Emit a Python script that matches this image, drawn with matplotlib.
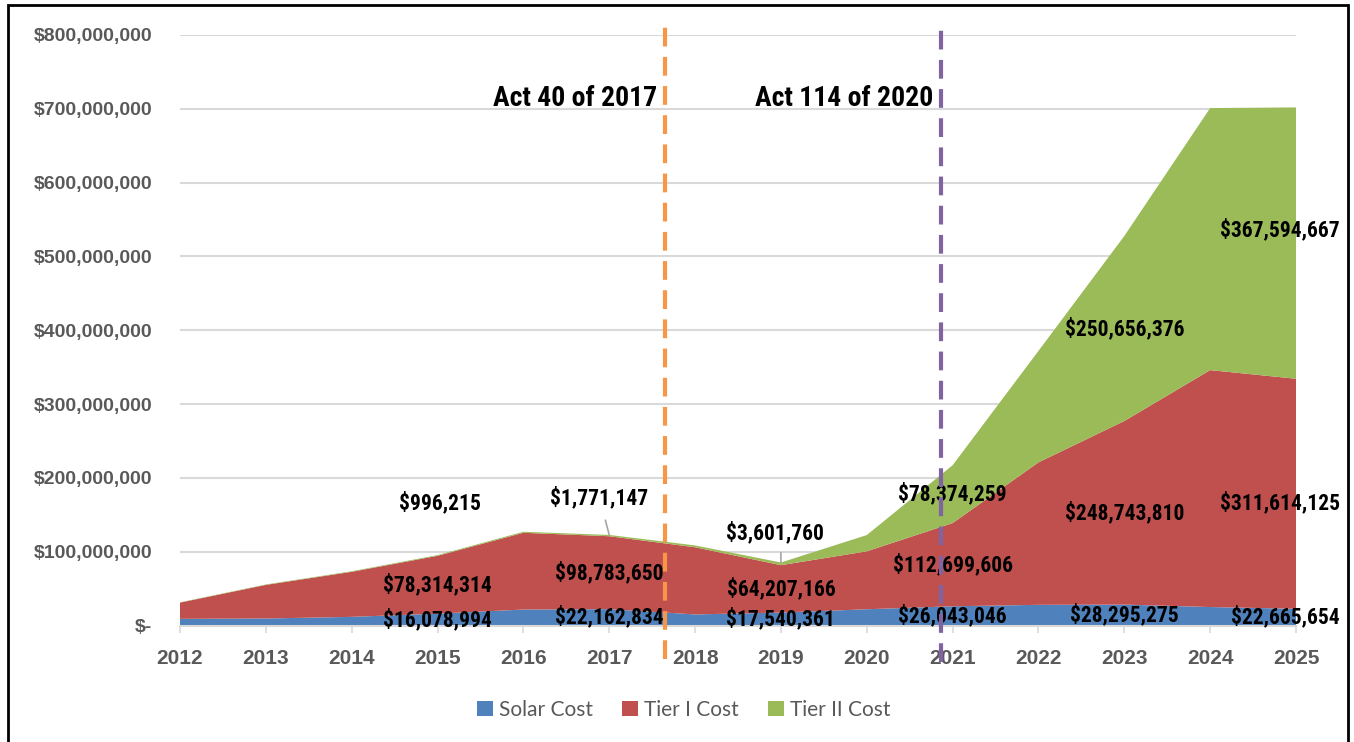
import matplotlib
matplotlib.use("Agg")
import matplotlib.pyplot as plt
from matplotlib import font_manager
from matplotlib.patches import Rectangle
from matplotlib.ticker import FuncFormatter, MultipleLocator

years = [2012, 2013, 2014, 2015, 2016, 2017, 2018, 2019, 2020, 2021, 2022, 2023, 2024, 2025]
solar_cost = [9000000, 9500000, 11700000, 16078994, 21600000, 22162834, 15000000,
              17540361, 22000000, 26043046, 28000000, 28295275, 25000000, 22665654]
tier1_cost = [22000000, 45500000, 61000000, 78314314, 104000000, 98783650, 91000000,
              64207166, 78500000, 112699606, 193000000, 248743810, 321000000, 311614125]
tier2_cost = [400000, 600000, 800000, 996215, 1400000, 1771147, 2500000,
              3601760, 22000000, 78374259, 151000000, 250656376, 355000000, 367594667]
series_names = ["Solar Cost", "Tier I Cost", "Tier II Cost"]
labeled_years = [2015, 2017, 2019, 2021, 2023, 2025]
events = [("Act 40 of 2017", 2017.65), ("Act 114 of 2020", 2020.865)]

colors = ["#4F81BD", "#C0504D", "#9BBB59"]
GRAY = "#595959"
SANS = ["Liberation Sans", "DejaVu Sans"]

installed = {f.name for f in font_manager.fontManager.ttflist}
narrow_choice = None
for cand in ["Liberation Sans Narrow", "Arial Narrow", "Roboto Condensed",
             "Open Sans Condensed", "DejaVu Sans Condensed"]:
    if cand in installed:
        narrow_choice = cand
        break
if narrow_choice == "Liberation Sans Narrow" or narrow_choice == "Arial Narrow":
    NARROW, LAB_SIZE, ACT_SIZE = [narrow_choice, "DejaVu Sans"], 15.5, 20.5
elif narrow_choice == "Roboto Condensed":
    NARROW, LAB_SIZE, ACT_SIZE = [narrow_choice, "DejaVu Sans"], 15.5, 20.0
else:
    NARROW, LAB_SIZE, ACT_SIZE = SANS, 12.8, 17.2

W, H, DPI = 1354, 742, 100
fig = plt.figure(figsize=(W / DPI, H / DPI), dpi=DPI)
ax = fig.add_axes([180 / W, 1 - 625.5 / H, (1296 - 180) / W, (625.5 - 35) / H])

ax.stackplot(years, solar_cost, tier1_cost, tier2_cost, colors=colors,
             labels=series_names, linewidth=0, zorder=2)
ax.set_xlim(years[0], years[-1])
ax.set_ylim(0, 800000000)
ax.yaxis.set_major_locator(MultipleLocator(100000000))
ax.set_xticks(years)
ax.yaxis.set_major_formatter(FuncFormatter(lambda v, p: "$-" if v == 0 else f"${v:,.0f}"))
ax.grid(axis="y", color="#D9D9D9", linewidth=1.5, zorder=0)
ax.set_axisbelow(True)
for s in ["top", "right", "left"]:
    ax.spines[s].set_visible(False)
ax.spines["bottom"].set_color("#D9D9D9")
ax.spines["bottom"].set_linewidth(1.5)
ax.tick_params(axis="y", length=0, pad=20)
ax.tick_params(axis="x", length=5, width=1.2, color="#D9D9D9", pad=12)
for lab in ax.get_yticklabels():
    lab.set_fontfamily(SANS); lab.set_fontweight("bold"); lab.set_fontsize(14); lab.set_color(GRAY)
for lab in ax.get_xticklabels():
    lab.set_fontfamily(SANS); lab.set_fontweight("bold"); lab.set_fontsize(15); lab.set_color(GRAY)

# data labels
lab_kw = dict(fontfamily=NARROW, fontweight="bold", fontsize=LAB_SIZE, color="black",
              textcoords="offset points", va="center", zorder=5)
for yr in labeled_years:
    i = years.index(yr)
    s, t1, t2 = solar_cost[i], tier1_cost[i], tier2_cost[i]
    if yr == years[-1]:
        dx, ha = 31.7, "right"
    else:
        dx, ha = 0, "center"
    ax.annotate(f"${s:,.0f}", (yr, s / 2), xytext=(dx, 0), ha=ha, **lab_kw)
    dy1 = -6.5 if yr == years[-1] else 0
    ax.annotate(f"${t1:,.0f}", (yr, s + t1 / 2), xytext=(dx, dy1), ha=ha, **lab_kw)
    top = s + t1 + t2
    if yr == 2015:
        ax.annotate(f"${t2:,.0f}", (yr, top), xytext=(1.8, 37.4), ha="center", **lab_kw)
    elif yr == 2017:
        ax.annotate(f"${t2:,.0f}", (yr, top), xytext=(-7, 26.6), ha="center",
                    arrowprops=dict(arrowstyle="-", color="#A6A6A6", lw=1.2,
                                    shrinkA=6, shrinkB=0), **lab_kw)
    elif yr == 2019:
        ax.annotate(f"${t2:,.0f}", (yr, top), xytext=(-4.3, 21.2), ha="center",
                    arrowprops=dict(arrowstyle="-", color="#A6A6A6", lw=1.2,
                                    shrinkA=4, shrinkB=0, relpos=(0.56, 0.0)), **lab_kw)
    else:
        dy2 = 9.4 if yr == years[-1] else 0
        ax.annotate(f"${t2:,.0f}", (yr, s + t1 + t2 / 2), xytext=(dx, dy2), ha=ha, **lab_kw)

# event lines
line_colors = ["#F79646", "#8064A2"]
tops = [812000000, 818000000]
bottoms = [-46000000, -49000000]
for (txt, xv), c, tp, bt in zip(events, line_colors, tops, bottoms):
    ax.plot([xv, xv], [bt, tp], color=c, lw=3, linestyle=(0, (4.5, 2.5)),
            clip_on=False, zorder=6)
    ax.text(xv - 0.09, 714000000, txt, ha="right", va="center", fontfamily=NARROW,
            fontweight="bold", fontsize=ACT_SIZE, color="black", zorder=6)

leg = fig.legend(loc="center", bbox_to_anchor=(684 / W, 1 - 710 / H), ncol=3, frameon=False,
                 prop={"family": ["Lato", "DejaVu Sans"], "size": 15},
                 handlelength=0.75, handleheight=0.75, handletextpad=0.3, columnspacing=1.4)
for t in leg.get_texts():
    t.set_color(GRAY)

fig.add_artist(Rectangle((8 / W, -0.01), (1348 - 8) / W, 1 - 5 / H + 0.01,
                         transform=fig.transFigure, fill=False, edgecolor="black", lw=2))

fig.savefig("out.png", dpi=DPI)
